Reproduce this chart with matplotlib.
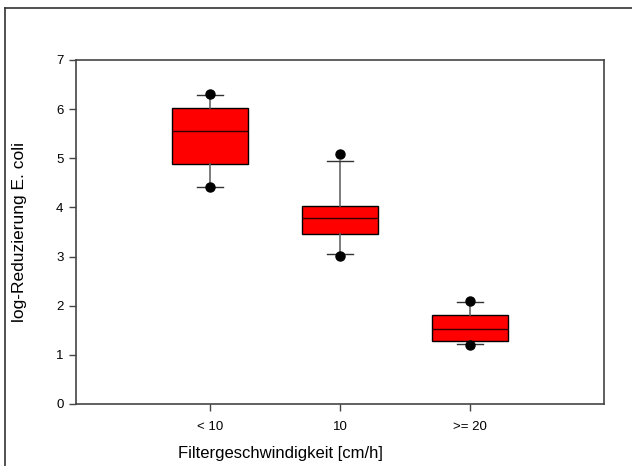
import matplotlib
matplotlib.use("Agg")
import matplotlib.pyplot as plt
from matplotlib.lines import Line2D

plt.rcParams["font.family"] = ["Liberation Sans", "DejaVu Sans"]

# box statistics
categories = ["< 10", "10", ">= 20"]
q1 = [4.88, 3.45, 1.28]
medians = [5.55, 3.78, 1.53]
q3 = [6.02, 4.02, 1.82]
whis_lo = [4.42, 3.05, 1.22]
whis_hi = [6.28, 4.95, 2.08]
low_points = [4.42, 3.01, 1.20]
high_points = [6.30, 5.08, 2.10]

positions = [1, 2, 3]

fig = plt.figure(figsize=(6.32, 4.66), dpi=100)
ax = fig.add_axes([76 / 632, 1 - 404 / 466, 528 / 632, 344 / 466])

stats = []
for i, name in enumerate(categories):
    stats.append({
        "label": name,
        "q1": q1[i],
        "med": medians[i],
        "q3": q3[i],
        "whislo": whis_lo[i],
        "whishi": whis_hi[i],
        "fliers": [low_points[i], high_points[i]],
    })

ax.bxp(
    stats,
    positions=positions,
    widths=0.59,
    patch_artist=True,
    boxprops=dict(facecolor="#ff0000", edgecolor="black", linewidth=1),
    medianprops=dict(color="#300000", linewidth=1),
    whiskerprops=dict(color="#666666", linewidth=1.2),
    capprops=dict(color="#333333", linewidth=1),
    capwidths=0.2,
    flierprops=dict(marker="o", markerfacecolor="black", markeredgecolor="black",
                    markersize=6.5),
)

ax.set_xlim(-0.03, 4.03)
ax.set_ylim(0, 7)
ax.set_xticks(positions)
ax.set_xticklabels(categories)
ax.set_yticks(range(0, 8))
ax.tick_params(axis="both", direction="out", length=5, width=1, color="#444444",
               labelsize=9.5, pad=4)
ax.tick_params(axis="x", pad=7)
for s in ax.spines.values():
    s.set_color("#444444")
    s.set_linewidth(1.2)

ax.set_xlabel("Filtergeschwindigkeit [cm/h]", fontsize=12)
ax.set_ylabel("log-Reduzierung E. coli", fontsize=12.5)
ax.xaxis.set_label_coords(0.388, -0.122)
ax.yaxis.set_label_coords(-0.092, 0.5)

# outer frame: top and left only
fig.add_artist(Line2D([5 / 632, 5 / 632], [0, 1 - 8 / 466], transform=fig.transFigure,
                      color="#333333", lw=1.2))
fig.add_artist(Line2D([5 / 632, 1], [1 - 8 / 466, 1 - 8 / 466], transform=fig.transFigure,
                      color="#333333", lw=1.2))

fig.savefig("out.png", dpi=100)
